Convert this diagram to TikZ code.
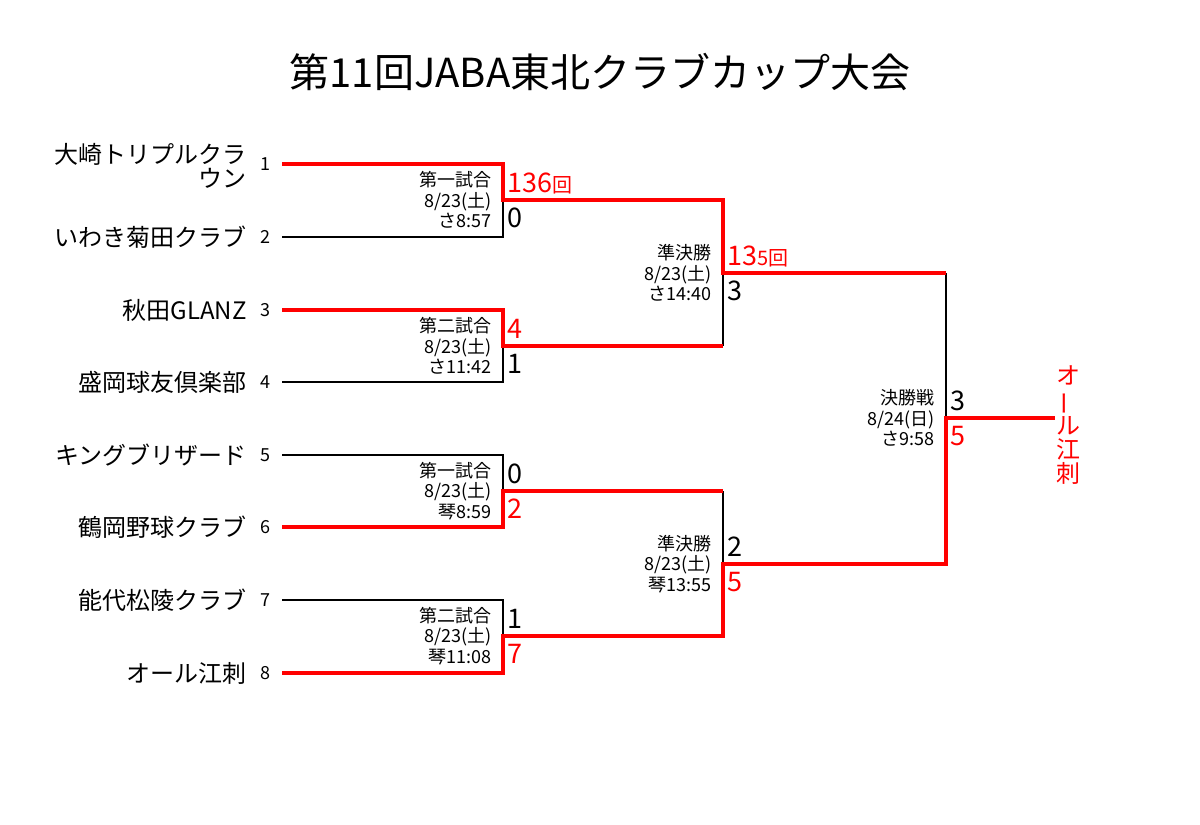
\documentclass[tikz,border=0pt]{standalone}
\usepackage{fontspec}
\setmainfont{Noto Sans CJK JP}
\usepackage{tikz}
\tikzstyle{win} = [draw=red, line width=3.2pt]
\tikzstyle{lose} = [draw=black, line width=1.5pt]
\tikzstyle{team} = [anchor=east, align=right, inner sep=0pt,
    font=\fontsize{24}{24}\selectfont]
\tikzstyle{seed} = [inner sep=0pt, font=\fontsize{18}{18}\selectfont]
\tikzstyle{info} = [anchor=east, align=right, inner sep=0pt,
    font=\fontsize{18}{20.5}\selectfont]
\tikzstyle{score} = [anchor=west, inner sep=0pt,
    font=\fontsize{27}{27}\selectfont]
\newcommand{\small回}{\fontsize{20}{20}\selectfont 回}
\usetikzlibrary{positioning}

\begin{document}
\begin{tikzpicture}[x=1pt, y=-1pt]
    \useasboundingbox (0,0) rectangle (1200,825);
    \node[font=\fontsize{40}{40}\selectfont] (title) at (600,72) {第11回JABA東北クラブカップ大会};
    % team lines
    \coordinate (e1) at (282,164);
    \coordinate (e2) at (282,237);
    \coordinate (e3) at (282,310);
    \coordinate (e4) at (282,382);
    \coordinate (e5) at (282,455);
    \coordinate (e6) at (282,527);
    \coordinate (e7) at (282,600);
    \coordinate (e8) at (282,673);
    \coordinate (m1) at (503,200);
    \coordinate (m2) at (503,346);
    \coordinate (m3) at (503,491);
    \coordinate (m4) at (503,636);
    \coordinate (s1) at (723,273);
    \coordinate (s2) at (723,564);
    \coordinate (f) at (946,418);
    \coordinate (c) at (1055,418);
    \node[team] (n1) at (247,166) {大崎トリプルクラ\\ウン};
    \node[team] (n2) at (247,237) {いわき菊田クラブ};
    \node[team] (n3) at (247,310) {秋田GLANZ};
    \node[team] (n4) at (247,382) {盛岡球友倶楽部};
    \node[team] (n5) at (247,455) {キングブリザード};
    \node[team] (n6) at (247,527) {鶴岡野球クラブ};
    \node[team] (n7) at (247,600) {能代松陵クラブ};
    \node[team] (n8) at (247,673) {オール江刺};
    \foreach \i/\y in {1/164,2/237,3/310,4/382,5/455,6/527,7/600,8/673}
        \node[seed] (k\i) at (265,\y) {\i};
    % losers
    \draw[lose] (e2) -| (m1);
    \draw[lose] (e4) -| (m2);
    \draw[lose] (e5) -| (m3);
    \draw[lose] (e7) -| (m4);
    \draw[lose] (m2 -| s1) -- (s1);
    \draw[lose] (m3 -| s2) -- (s2);
    \draw[lose] (s1 -| f) -- (f);
    % winners
    \draw[win] (e1) -| (m1) -| (s1) -- (s1 -| f);
    \draw[win] (e3) -| (m2) -- (m2 -| s1);
    \draw[win] (e6) -| (m3) -- (m3 -| s2);
    \draw[win] (e8) -| (m4) -| (s2) -| (f) -- (c);
    % game info
    \node[info] (i1) at ([xshift=-11pt]m1) {第一試合\\8/23(土)\\さ8:57};
    \node[info] (i2) at ([xshift=-11pt]m2) {第二試合\\8/23(土)\\さ11:42};
    \node[info] (i3) at ([xshift=-11pt]m3) {第一試合\\8/23(土)\\琴8:59};
    \node[info] (i4) at ([xshift=-11pt]m4) {第二試合\\8/23(土)\\琴11:08};
    \node[info] (i5) at ([xshift=-11pt]s1) {準決勝\\8/23(土)\\さ14:40};
    \node[info] (i6) at ([xshift=-11pt]s2) {準決勝\\8/23(土)\\琴13:55};
    \node[info] (i7) at ([xshift=-11pt]f) {決勝戦\\8/24(日)\\さ9:58};
    % scores
    \node[score, red] (p1) at ([shift={(4,-17)}]m1) {136\small回};
    \node[score] (q1) at ([shift={(4,18)}]m1) {0};
    \node[score, red] (p2) at ([shift={(4,-17)}]m2) {4};
    \node[score] (q2) at ([shift={(4,18)}]m2) {1};
    \node[score] (p3) at ([shift={(4,-17)}]m3) {0};
    \node[score, red] (q3) at ([shift={(4,18)}]m3) {2};
    \node[score] (p4) at ([shift={(4,-17)}]m4) {1};
    \node[score, red] (q4) at ([shift={(4,18)}]m4) {7};
    \node[score, red] (p5) at ([shift={(4,-17)}]s1) {13{\fontsize{20}{20}\selectfont 5}\small回};
    \node[score] (q5) at ([shift={(4,18)}]s1) {3};
    \node[score] (p6) at ([shift={(4,-17)}]s2) {2};
    \node[score, red] (q6) at ([shift={(4,18)}]s2) {5};
    \node[score] (p7) at ([shift={(4,-17)}]f) {3};
    \node[score, red] (q7) at ([shift={(4,18)}]f) {5};
    % champion
    \node[red, align=center, inner sep=0pt, font=\fontsize{24}{24}\selectfont]
        (champ) at (1068,425) {オ\\\rotatebox[origin=c]{90}{ー}\\ル\\江\\刺};
\end{tikzpicture}
\end{document}
